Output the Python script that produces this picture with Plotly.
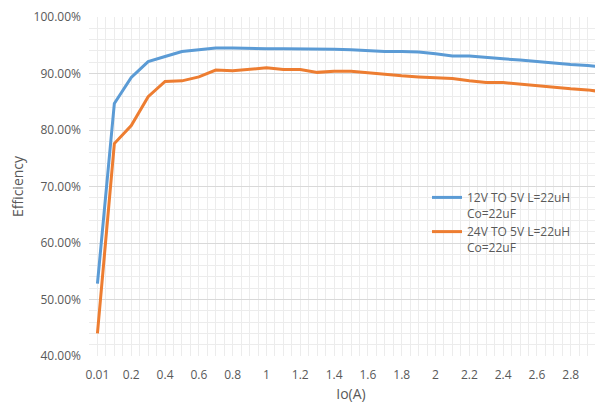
import plotly.graph_objects as go

currents = ["0.01", "0.1", "0.2", "0.3", "0.4", "0.5", "0.6", "0.7", "0.8", "0.9", "1",
            "1.1", "1.2", "1.3", "1.4", "1.5", "1.6", "1.7", "1.8", "1.9", "2",
            "2.1", "2.2", "2.3", "2.4", "2.5", "2.6", "2.7", "2.8", "2.9", "3"]

eff_12v = [52.8, 84.7, 89.3, 92.1, 93.0, 93.9, 94.2, 94.5, 94.5, 94.4, 94.4,
           94.4, 94.4, 94.4, 94.3, 94.2, 94.0, 93.9, 93.9, 93.8, 93.5,
           93.1, 93.1, 92.8, 92.6, 92.4, 92.1, 91.9, 91.6, 91.4, 91.1]

eff_24v = [44.0, 77.6, 80.8, 85.9, 88.6, 88.7, 89.4, 90.6, 90.5, 90.8, 91.0,
           90.7, 90.7, 90.2, 90.4, 90.4, 90.1, 89.9, 89.6, 89.4, 89.2,
           89.1, 88.7, 88.4, 88.4, 88.1, 87.8, 87.6, 87.3, 87.1, 86.7]

series_names = ["12V TO 5V L=22uH<br>Co=22uF", "24V TO 5V L=22uH<br>Co=22uF"]
y_ticks = [40, 50, 60, 70, 80, 90, 100]
y_tick_text = ["40.00%", "50.00%", "60.00%", "70.00%", "80.00%", "90.00%", "100.00%"]

idx = list(range(len(currents)))
tick_idx = [i for i in idx if i % 2 == 0]
tick_txt = [currents[i] for i in tick_idx]

FONT = "Open Sans"
GREY = "#595959"

fig = go.Figure()
fig.add_trace(go.Scatter(x=idx, y=eff_12v, mode="lines", name=series_names[0],
                         line=dict(color="#5B9BD5", width=3)))
fig.add_trace(go.Scatter(x=idx, y=eff_24v, mode="lines", name=series_names[1],
                         line=dict(color="#ED7D31", width=3)))

fig.update_layout(
    width=605, height=403,
    margin=dict(l=81, r=0, t=9, b=55, autoexpand=False),
    paper_bgcolor="white", plot_bgcolor="white",
    font=dict(family=FONT, size=12, color=GREY),
    showlegend=True,
    legend=dict(x=0.645, y=0.51, xanchor="left", yanchor="top",
                bgcolor="rgba(0,0,0,0)", font=dict(size=12, color=GREY),
                valign="top", tracegroupgap=0),
    xaxis=dict(
        range=[-0.5, len(currents) - 0.5], automargin=False,
        tickmode="array", tickvals=tick_idx, ticktext=tick_txt,
        showgrid=False, zeroline=False, showline=False, ticks="",
        ticklabelstandoff=10, ticklabeloverflow="allow",
        tickfont=dict(size=12, color=GREY),
        minor=dict(tickmode="linear", tick0=-0.5, dtick=0.5, showgrid=True,
                   gridcolor="#ececec", gridwidth=1),
        title=dict(text="Io(A)", font=dict(size=14, color=GREY), standoff=7),
    ),
    yaxis=dict(
        range=[40, 100], automargin=False,
        tickmode="array", tickvals=y_ticks, ticktext=y_tick_text,
        showgrid=True, gridcolor="#d9d9d9", gridwidth=1,
        zeroline=False, showline=False, ticks="",
        ticklabelstandoff=7,
        tickfont=dict(size=12, color=GREY),
        minor=dict(tickmode="linear", tick0=40, dtick=2, showgrid=True,
                   gridcolor="#ececec", gridwidth=1),
        title=dict(text="Efficiency", font=dict(size=14, color=GREY), standoff=8),
    ),
)

fig.write_html("out.html")
